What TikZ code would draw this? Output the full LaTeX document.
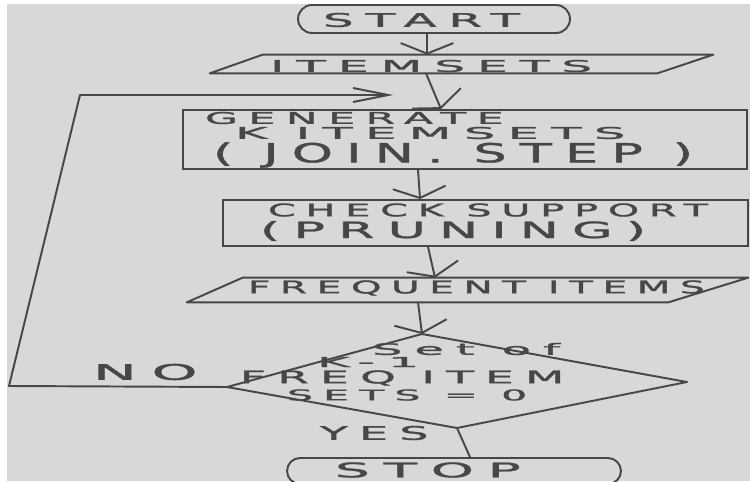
\documentclass[tikz,border=0pt]{standalone}
\usepackage{fontspec}
\usetikzlibrary{shapes.misc,arrows.meta}
\newfontfamily\handfont{DejaVu Sans}[LetterSpace=25, FakeBold=1.2]
% hand-lettered text fitted to a given width and height
\newcommand{\hw}[3]{\resizebox{#1}{#2}{\handfont #3\kern-0.25em}}

\definecolor{paper}{HTML}{D8D8D8}
\definecolor{ink}{HTML}{474747}

\begin{document}
\begin{tikzpicture}[x=0.02cm, y=-0.02cm,
  box/.style={draw=ink, line width=1.1pt, inner sep=0pt},
  frame/.style={draw=none, rectangle, inner sep=0pt},
  flow/.style={draw=ink, line width=1.1pt, -{Straight Barb[length=6pt,width=30pt]}},
  loopflow/.style={draw=ink, line width=1.1pt, line join=round, -{Straight Barb[length=20pt,width=8pt]}},
  plain/.style={draw=ink, line width=1.1pt, line join=round},
  txt/.style={text=ink, inner sep=0pt, anchor=center}]

\useasboundingbox (0,0) rectangle (750,483);
\fill[white] (0,0) rectangle (750,483);
\fill[paper] (7,4) rectangle (750,481);

\begin{scope}
\clip (7,4) rectangle (750,481);

% terminals and process boxes
\node[box, rounded rectangle, minimum width=5.44cm, minimum height=0.56cm] (start) at (434,19) {};
\node[frame, minimum width=10.06cm, minimum height=0.36cm] (items) at (461.5,64) {};
\draw[plain] ([xshift=1.06cm]items.north west) -- (items.north east)
  -- ([xshift=-1.12cm]items.south east) -- (items.south west) -- cycle;
\node[box, rectangle, minimum width=11.28cm, minimum height=1.18cm] (gen) at (465,139.5) {};
\node[box, rectangle, minimum width=10.5cm, minimum height=0.92cm] (check) at (485.5,223) {};
\node[frame, minimum width=11.22cm, minimum height=0.48cm] (freq) at (467.5,290) {};
\draw[plain] ([xshift=1.12cm]freq.north west) -- (freq.north east)
  -- ([xshift=-1.6cm]freq.south east) -- (freq.south west) -- cycle;
\node[box, rounded rectangle, minimum width=6.68cm, minimum height=0.52cm] (stop) at (454,471) {};

% decision
\coordinate (dtop) at (422,334);
\coordinate (dleft) at (227,387);
\coordinate (dright) at (687,382);
\coordinate (dbot) at (457,428);
\draw[plain] (dtop) -- (dright) -- (dbot) -- (dleft) -- cycle;

% labels
\node[txt] (t-start) at (415.5,20) {\hw{3.70cm}{0.28cm}{START}};
\node[txt] (t-items) at (425,66) {\hw{6.20cm}{0.24cm}{ITEMSETS}};
\node[txt] (t-gen1) at (349,118) {\hw{5.76cm}{0.24cm}{GENERATE}};
\node[txt] (t-gen2) at (424,133) {\hw{7.56cm}{0.24cm}{K ITEMSETS}};
\node[txt] (t-gen3) at (446.5,155) {\hw{9.34cm}{0.40cm}{( JOIN. STEP )}};
\node[txt] (t-chk1) at (483,210) {\hw{8.60cm}{0.26cm}{CHECK SUPPORT}};
\node[txt] (t-chk2) at (446.5,231) {\hw{7.46cm}{0.34cm}{(PRUNING)}};
\node[txt] (t-freq) at (471.5,288) {\hw{8.94cm}{0.26cm}{FREQUENT ITEMS}};
\node[txt] (t-d1) at (460,349) {\hw{3.52cm}{0.24cm}{Set of}};
\node[txt] (t-d2) at (362,362) {\hw{1.80cm}{0.20cm}{K-1}};
\node[txt] (t-d3) at (396.5,378) {\hw{6.26cm}{0.26cm}{FREQ ITEM}};
\node[txt] (t-d4) at (402,395) {\hw{4.60cm}{0.22cm}{SETS = 0}};
\node[txt] (t-no) at (138,372) {\hw{1.80cm}{0.32cm}{NO}};
\node[txt] (t-yes) at (368.5,433) {\hw{1.94cm}{0.28cm}{YES}};
\node[txt] (t-stop) at (421,470) {\hw{3.44cm}{0.30cm}{STOP}};

% main flow
\draw[flow] ([xshift=-0.14cm]start.south) -- ([xshift=-0.14cm]start.south |- items.north);
\draw[flow] ([xshift=-0.71cm]items.south) -- ([xshift=-0.48cm]gen.north);
\draw[flow] ([xshift=-0.94cm]gen.south) -- ([xshift=-1.31cm]check.north);
\draw[flow] ([xshift=-1.15cm]check.south) -- ([xshift=-0.65cm]freq.north);
\draw[flow] ([xshift=-0.99cm]freq.south) -- (dtop);
\draw[plain] (dbot) -- ([xshift=0.32cm]stop.north);

% loop back on NO
\coordinate (loopbl) at (9,386);
\coordinate (looptl) at (80,95);
\coordinate (loopend) at (393,95);
\draw[loopflow] (dleft) -- (loopbl) -- (looptl) -- (loopend);
\end{scope}
\end{tikzpicture}
\end{document}
